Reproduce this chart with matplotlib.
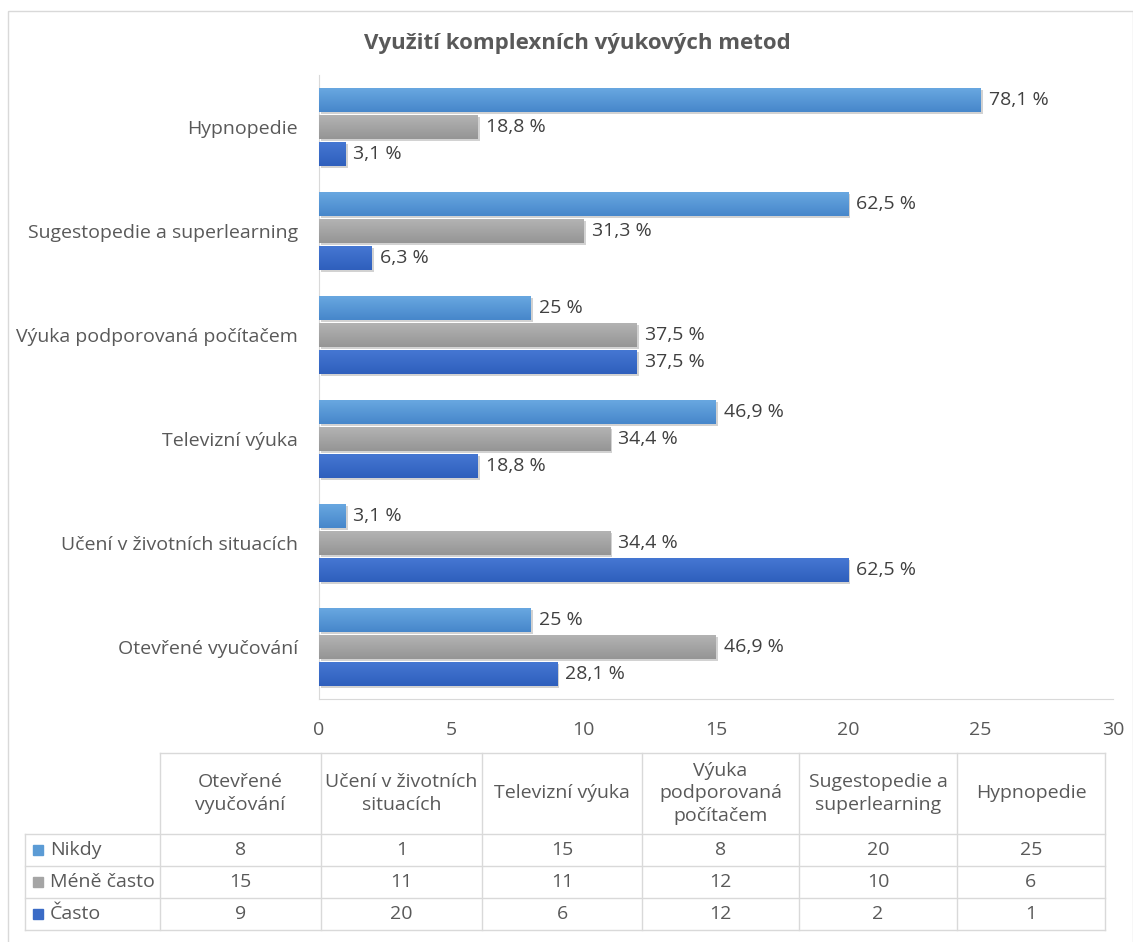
import matplotlib.pyplot as plt
from matplotlib import patheffects as pe
from matplotlib.patches import Rectangle
from matplotlib.colors import LinearSegmentedColormap
import numpy as np

plt.rcParams['font.family'] = ['Open Sans', 'DejaVu Sans']

categories = ['Otevřené vyučování', 'Učení v životních situacích', 'Televizní výuka',
              'Výuka podporovaná počítačem', 'Sugestopedie a superlearning', 'Hypnopedie']
table_headers = ['Otevřené\nvyučování', 'Učení v životních\nsituacích', 'Televizní výuka',
                 'Výuka\npodporovaná\npočítačem', 'Sugestopedie a\nsuperlearning', 'Hypnopedie']
series_names = ['Nikdy', 'Méně často', 'Často']
nikdy = [8, 1, 15, 8, 20, 25]
mene_casto = [15, 11, 11, 12, 10, 6]
casto = [9, 20, 6, 12, 2, 1]
nikdy_pct = ['25 %', '3,1 %', '46,9 %', '25 %', '62,5 %', '78,1 %']
mene_casto_pct = ['46,9 %', '34,4 %', '34,4 %', '37,5 %', '31,3 %', '18,8 %']
casto_pct = ['28,1 %', '62,5 %', '18,8 %', '37,5 %', '6,3 %', '3,1 %']
x_ticks = [0, 5, 10, 15, 20, 25, 30]

colors = ['#5b9bd5', '#a5a5a5', '#3a6bc6']
# top/bottom shades for the bar fill gradient
shades = [('#68a7e0', '#4787cb'), ('#b3b3b3', '#959595'), ('#4577d2', '#2f5fbd')]
text_col = '#595959'
grid_col = '#d9d9d9'
fs = 14

W, H = 1133, 942
fig = plt.figure(figsize=(W / 100, H / 100), dpi=100)

# background layer in pixel coordinates: frame, title, data table
bg = fig.add_axes([0, 0, 1, 1])
bg.set_xlim(0, W)
bg.set_ylim(H, 0)
bg.axis('off')
bg.add_patch(Rectangle((8, 11), W - 8, H, fill=False, ec=grid_col, lw=1))
bg.text(577, 43, 'Využití komplexních výukových metod', ha='center', va='center',
        fontsize=16, fontweight='bold', color=text_col)

# chart area
ax_l, ax_r, ax_t, ax_b = 319, 1113, 75, 699
ax = fig.add_axes([ax_l / W, (H - ax_b) / H, (ax_r - ax_l) / W, (ax_b - ax_t) / H])
y = np.arange(len(categories))
step = 0.26
bh = 0.23
shadow = [pe.SimplePatchShadow(offset=(1.5, -1.5), alpha=0.35, shadow_rgbFace='#7f7f7f'), pe.Normal()]
series = [(nikdy, nikdy_pct, step), (mene_casto, mene_casto_pct, 0), (casto, casto_pct, -step)]
grad = np.linspace(0, 1, 32).reshape(-1, 1)
for (vals, pcts, off), c, (top, bot) in zip(series, colors, shades):
    cmap = LinearSegmentedColormap.from_list('g', [top, bot])
    bars = ax.barh(y + off, vals, height=bh, color=c, zorder=3, path_effects=shadow)
    for b, lab in zip(bars, pcts):
        x0, y0, w, h = b.get_x(), b.get_y(), b.get_width(), b.get_height()
        ax.imshow(grad, extent=[x0, x0 + w, y0, y0 + h], origin='upper', cmap=cmap,
                  aspect='auto', zorder=4, interpolation='bilinear')
        ax.text(w + 0.3, y0 + h / 2, lab, va='center', ha='left', fontsize=fs, color='#404040')
ax.set_xlim(0, 30)
ax.set_ylim(-0.5, len(categories) - 0.5)
ax.set_xticks(x_ticks)
ax.set_xticklabels([str(t) for t in x_ticks], fontsize=fs, color=text_col)
ax.set_yticks(y)
ax.set_yticklabels(categories, fontsize=fs, color=text_col)
ax.tick_params(length=0)
ax.tick_params(axis='y', pad=15)
ax.tick_params(axis='x', pad=16)
for s in ['top', 'right']:
    ax.spines[s].set_visible(False)
for s in ['left', 'bottom']:
    ax.spines[s].set_color(grid_col)
ax.patch.set_alpha(0)

# data table under the chart
col_x = [160, 321, 482, 642, 799, 957, 1105]
row_y = [753, 834, 866, 898, 930]
leg_l = 25
bg.plot([col_x[0], col_x[-1]], [row_y[0], row_y[0]], color=grid_col, lw=1)
for ry in row_y[1:]:
    bg.plot([leg_l, col_x[-1]], [ry, ry], color=grid_col, lw=1)
bg.plot([leg_l, leg_l], [row_y[1], row_y[-1]], color=grid_col, lw=1)
for cx in col_x:
    bg.plot([cx, cx], [row_y[0], row_y[-1]], color=grid_col, lw=1)
for i, h in enumerate(table_headers):
    bg.text((col_x[i] + col_x[i + 1]) / 2, (row_y[0] + row_y[1]) / 2, h, ha='center',
            va='center', fontsize=fs, color=text_col, linespacing=1.3)
for r, (name, vals, c) in enumerate(zip(series_names, [nikdy, mene_casto, casto], colors)):
    cy = (row_y[r + 1] + row_y[r + 2]) / 2
    bg.add_patch(Rectangle((33, cy - 5), 10, 10, color=c))
    bg.text(50, cy, name, ha='left', va='center', fontsize=fs, color=text_col)
    for i, v in enumerate(vals):
        bg.text((col_x[i] + col_x[i + 1]) / 2, cy, str(v), ha='center', va='center',
                fontsize=fs, color=text_col)

fig.savefig('out.png', dpi=100, facecolor='white')
